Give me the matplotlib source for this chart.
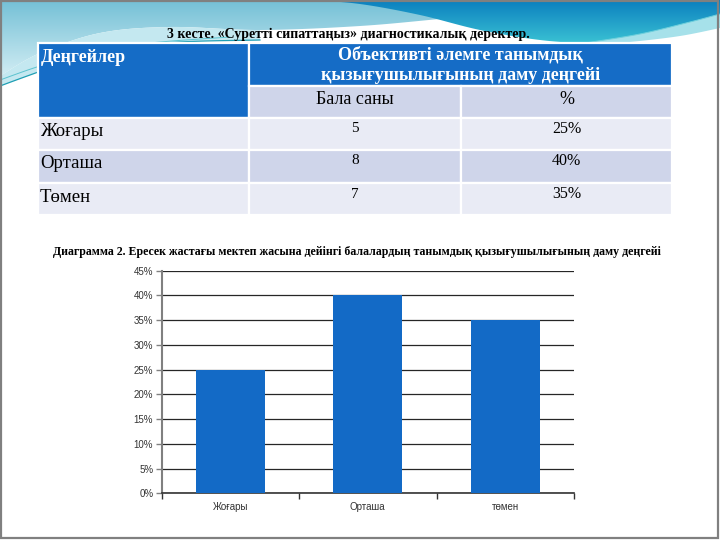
import numpy as np
import matplotlib
matplotlib.use("Agg")
import matplotlib.pyplot as plt
from matplotlib.patches import Rectangle, Polygon
from matplotlib.colors import LinearSegmentedColormap

# ---------------- data ----------------
table_title = "3 кесте. «Суретті сипаттаңыз» диагностикалық деректер."
col_header = "Деңгейлер"
group_header = ["Объективті әлемге танымдық", "қызығушылығының даму деңгейі"]
sub_headers = ["Бала саны", "%"]
levels_table = ["Жоғары", "Орташа", "Төмен"]
counts = [5, 8, 7]
percents = [25, 40, 35]

chart_title = ("Диаграмма 2. Ересек жастағы мектеп жасына дейінгі балалардың "
               "танымдық қызығушылығының даму деңгейі")
levels_chart = ["Жоғары", "Орташа", "төмен"]
y_ticks = [0, 5, 10, 15, 20, 25, 30, 35, 40, 45]

SERIF = ["Liberation Serif", "DejaVu Serif"]
SANS = ["Liberation Sans", "DejaVu Sans"]
BLUE = "#156cc6"
LIGHT = "#e9ebf5"
MID = "#cfd5ea"

W, H = 720, 540
fig = plt.figure(figsize=(7.2, 5.4), dpi=100)
fig.patch.set_facecolor("white")
bg = fig.add_axes([0, 0, 1, 1])
bg.set_xlim(0, W)
bg.set_ylim(H, 0)
bg.axis("off")


def catmull(pts, n=24):
    pts = np.asarray(pts, float)
    p = np.vstack([pts[0], pts, pts[-1]])
    out = []
    for i in range(1, len(p) - 2):
        p0, p1, p2, p3 = p[i - 1], p[i], p[i + 1], p[i + 2]
        t = np.linspace(0, 1, n, endpoint=False)[:, None]
        seg = 0.5 * ((2 * p1) + (-p0 + p2) * t + (2 * p0 - 5 * p1 + 4 * p2 - p3) * t ** 2
                     + (-p0 + 3 * p1 - 3 * p2 + p3) * t ** 3)
        out.append(seg)
    out.append(pts[-1][None, :])
    return np.vstack(out)


def grad_fill(poly_pts, c_top, c_bot, y0, y1, x0=0, x1=W, z=0):
    patch = Polygon(poly_pts, closed=True, facecolor="none", edgecolor="none", zorder=z)
    bg.add_patch(patch)
    cmap = LinearSegmentedColormap.from_list("g", [c_top, c_bot])
    g = np.linspace(0, 1, 256)[:, None] * np.ones((1, 8))
    im = bg.imshow(g, extent=[x0, x1, y1, y0], cmap=cmap, aspect="auto",
                   interpolation="bilinear", zorder=z, vmin=0, vmax=1)
    im.set_clip_path(patch)


# ---------------- decorative header ----------------
curveA = catmull([(0, 76), (40, 53), (100, 33), (170, 27), (260, 30), (360, 26),
                  (450, 18), (560, 8), (720, 4)])
polyA = np.vstack([[(0, 0), (W, 0)], curveA[::-1]])
grad_fill(polyA, "#74c0d6", "#d6eff5", 0, 80, z=0)

curveL1 = catmull([(0, 86), (30, 75), (70, 61), (120, 48), (180, 42), (260, 40)])
band = np.vstack([curveA[curveA[:, 0] <= 260], curveL1[::-1]])
bg.add_patch(Polygon(band, closed=True, facecolor="#c4e8f0", edgecolor="none", zorder=0.5))
bg.plot(curveL1[:, 0], curveL1[:, 1], color="#1f9fb4", lw=0.9, zorder=0.6)
curveL2 = catmull([(0, 80), (40, 66), (90, 52), (150, 43), (230, 37)])
bg.plot(curveL2[:, 0], curveL2[:, 1], color="#5cc3cf", lw=0.7, zorder=0.6)

curveT = catmull([(720, 24), (680, 32), (630, 39), (590, 43), (540, 40), (480, 30),
                  (420, 15), (360, 4), (310, 0)])
polyT = np.vstack([[(310, 0), (W, 0)], curveT])
grad_fill(polyT, "#0b7fbf", "#3cc4d4", 0, 45, x0=300, x1=W, z=1)

curveS1 = catmull([(585, 43), (640, 34), (690, 22), (720, 14)])
curveS2 = catmull([(720, 28), (680, 36), (630, 42), (590, 45)])
bg.add_patch(Polygon(np.vstack([curveS1, curveS2]), closed=True,
                     facecolor="#a6e1ea", edgecolor="none", zorder=1.2))
bg.plot(curveS1[:, 0], curveS1[:, 1], color="#6fd0dc", lw=0.7, zorder=1.3)

bg.add_patch(Rectangle((1, 1), 717, 537, facecolor="none", edgecolor="#808080",
                       lw=1.6, zorder=10))

# ---------------- table ----------------
bg.text(348, 34, table_title, ha="center", va="center", fontsize=10,
        fontweight="bold", family=SERIF, color="black", zorder=5)

cx = [38, 249, 461, 672]
ry = [43, 86, 118, 150, 183, 215]
ec = dict(edgecolor="white", lw=1.6, zorder=3)
bg.add_patch(Rectangle((cx[0], ry[0]), cx[1] - cx[0], ry[2] - ry[0], facecolor=BLUE, **ec))
bg.add_patch(Rectangle((cx[1], ry[0]), cx[3] - cx[1], ry[1] - ry[0], facecolor=BLUE, **ec))
for j in range(2):
    bg.add_patch(Rectangle((cx[1 + j], ry[1]), cx[2 + j] - cx[1 + j], ry[2] - ry[1],
                           facecolor=MID, **ec))
for i in range(len(levels_table)):
    col = LIGHT if i % 2 == 0 else MID
    for j in range(3):
        bg.add_patch(Rectangle((cx[j], ry[2 + i]), cx[j + 1] - cx[j], ry[3 + i] - ry[2 + i],
                               facecolor=col, **ec))

bg.text(cx[0] + 3, 58, col_header, ha="left", va="center", fontsize=13,
        fontweight="bold", family=SERIF, color="white", zorder=5)
mid_group = (cx[1] + cx[3]) / 2
bg.text(mid_group, 55, group_header[0], ha="center", va="center", fontsize=13,
        fontweight="bold", family=SERIF, color="white", zorder=5)
bg.text(mid_group, 76, group_header[1], ha="center", va="center", fontsize=13,
        fontweight="bold", family=SERIF, color="white", zorder=5)
for j, s in enumerate(sub_headers):
    bg.text((cx[1 + j] + cx[2 + j]) / 2, 99, s, ha="center", va="center",
            fontsize=13, family=SERIF, color="black", zorder=5)
for i, (lv, c, p) in enumerate(zip(levels_table, counts, percents)):
    top = ry[2 + i]
    bg.text(cx[0] + 2, top + 14, lv, ha="left", va="center", fontsize=13.5,
            family=SERIF, color="black", zorder=5)
    bg.text((cx[1] + cx[2]) / 2, top + 11, str(c), ha="center", va="center",
            fontsize=11, family=SERIF, color="black", zorder=5)
    bg.text((cx[2] + cx[3]) / 2, top + 11, f"{p}%", ha="center", va="center",
            fontsize=11.5, family=SERIF, color="black", zorder=5)

# ---------------- chart ----------------
bg.text(357, 252, chart_title, ha="center", va="center", fontsize=8.6,
        fontweight="bold", family=SERIF, color="black", zorder=5)

L, R, T, B = 161.6, 574, 270.7, 493.3
ax = fig.add_axes([L / W, (H - B) / H, (R - L) / W, (B - T) / H])
ax.set_facecolor("none")
x = np.arange(len(levels_chart))
ax.bar(x, percents, width=0.5, color="#136ac6", zorder=3)
ax.set_xlim(-0.5, len(levels_chart) - 0.5)
ax.set_ylim(0, 45)
ax.set_yticks(y_ticks)
ax.set_yticklabels([f"{v}%" for v in y_ticks], family=SANS, fontsize=7, color="#333333")
ax.yaxis.grid(True, color="#262626", lw=0.9, zorder=1)
ax.set_axisbelow(True)
ax.set_xticks(x)
ax.set_xticklabels(levels_chart, family=SANS, fontsize=7, color="#333333")
ax.set_xticks(np.arange(-0.5, len(levels_chart)), minor=True)
ax.tick_params(axis="x", which="major", length=0, pad=6)
ax.tick_params(axis="x", which="minor", length=4, width=1.0, color="#333333")
ax.tick_params(axis="y", length=4, width=1.0, color="#808080", pad=2)
for s in ["top", "right"]:
    ax.spines[s].set_visible(False)
ax.spines["left"].set_color("#808080")
ax.spines["left"].set_linewidth(1.5)
ax.spines["bottom"].set_color("#333333")
ax.spines["bottom"].set_linewidth(1.2)

fig.savefig("out.png", dpi=100)
